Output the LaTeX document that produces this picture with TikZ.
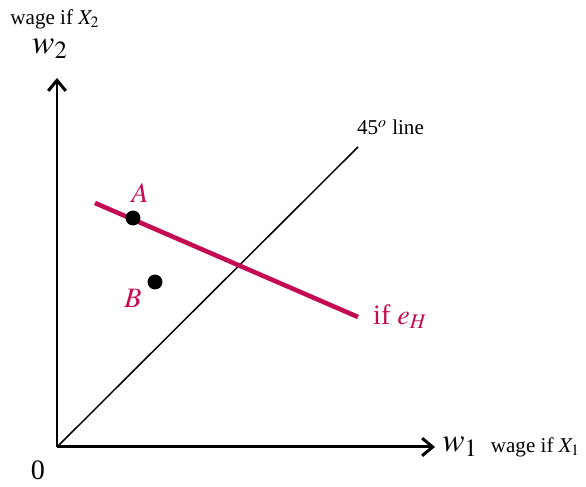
\documentclass[tikz,border=0pt]{standalone}
\usepackage{mathptmx}
\usepackage[no-math]{fontspec}
\setmainfont{Liberation Serif}
\usetikzlibrary{arrows.meta}
\definecolor{effortColor}{RGB}{196, 10, 82}

\begin{document}
\begin{tikzpicture}[
    >={Straight Barb[length=6pt, width=10pt]},
    axis line/.style={line width=1.7pt, ->},
    diag line/.style={line width=0.85pt},
    effort line/.style={line width=2.6pt, effortColor},
    point dot/.style={circle, fill=black, inner sep=0pt, minimum size=8.5pt},
    axis label/.style={font=\fontsize{19}{19}\selectfont, inner sep=1pt},
    wage label/.style={font=\fontsize{12}{12}\selectfont, inner sep=1pt},
    point label/.style={font=\fontsize{16}{16}\selectfont, effortColor},
]
% ---- canvas ----
\useasboundingbox (0,0) rectangle (11.72,9.74);

% ---- key points ----
\coordinate (O)     at (1.14, 0.80);
\coordinate (xTip)  at (8.70, 0.80);
\coordinate (yTip)  at (1.14, 8.18);
\coordinate (diagEnd) at (7.16, 6.80);
\coordinate (effL)  at (1.90, 5.68);
\coordinate (effR)  at (7.16, 3.40);

% ---- axes ----
\draw[axis line] (O) -- (xTip);
\draw[axis line] (O) -- (yTip);
\node[axis label, right=3pt] (wOne) at (xTip) {$w_1$};
\node[wage label, right=5pt] (xLabel) at (wOne.east) {wage if $X_1$};
\node[axis label] (wTwo) at (1.00, 8.76) {$w_2$};
\node[wage label] (yLabel) at (1.10, 9.36) {wage if $X_2$};
\node[font=\fontsize{16}{16}\selectfont] (zero) at (0.76, 0.34) {0};

% ---- 45 degree line ----
\draw[diag line] (O) -- (diagEnd);
\node[wage label, anchor=south west] (diagLabel) at (7.10, 7.00) {45$^o$ line};

% ---- effort line ----
\draw[effort line] (effL) -- (effR);
\node[point label, anchor=west] (effLabel) at (7.34, 3.40) {if $e_H$};

% ---- points ----
\node[point dot] (A) at (2.66, 5.38) {};
\node[point dot] (B) at (3.10, 4.10) {};
\node[point label] (Alabel) at (2.80, 5.88) {$A$};
\node[point label] (Blabel) at (2.66, 3.78) {$B$};

\end{tikzpicture}
\end{document}
